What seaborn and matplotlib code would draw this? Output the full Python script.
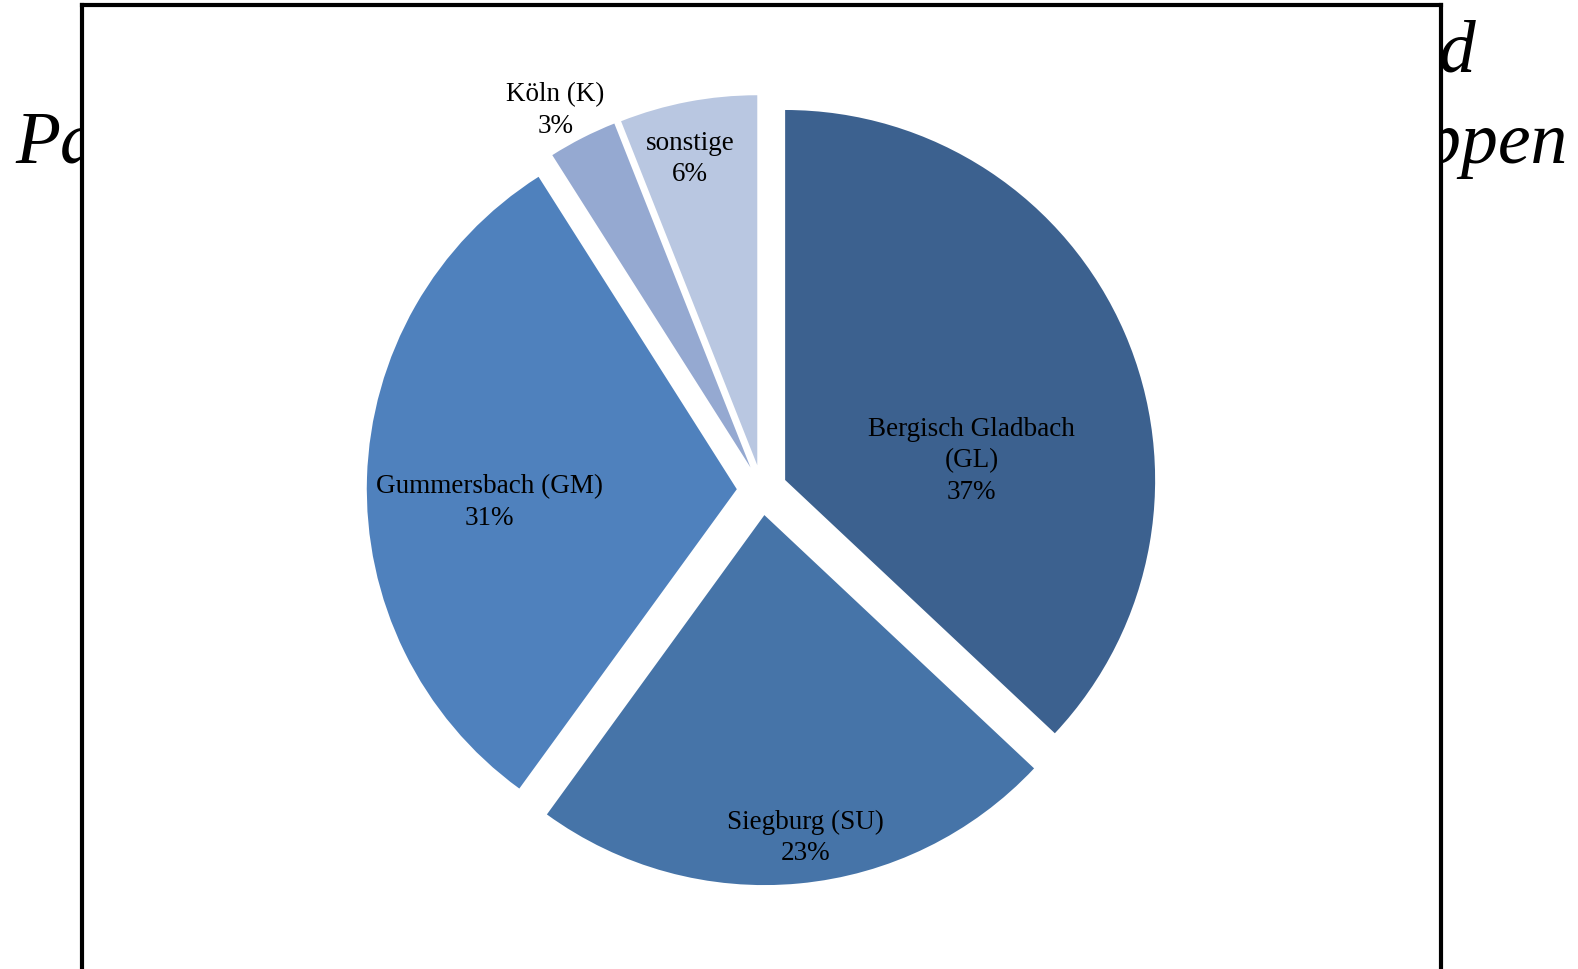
import numpy as np
import matplotlib
matplotlib.use("Agg")
import matplotlib.pyplot as plt
import seaborn as sns

# ---- data ----
categories = ["Bergisch Gladbach\n(GL)", "Siegburg (SU)", "Gummersbach (GM)", "Köln (K)", "sonstige"]
shares = [37, 23, 31, 3, 6]
colors = ["#3C618F", "#4674A8", "#4F81BD", "#95A9D1", "#B9C7E1"]
title_lines = ["Verteilung der stationären Patientinnen und",
               "Patienten nach Wohnort in Kfz-Kennzeichengruppen"]

# ---- layout (label placement relative to slice middle) ----
label_r = [0.572, 0.945, 0.737, 1.169, 0.918]
label_shift = [-15.2, 1.7, 4.3, 1.5, 1.4]

sns.set_theme(style="white")
plt.rcParams["font.family"] = ["Liberation Serif", "DejaVu Serif"]
plt.rcParams["text.color"] = "black"

W, H = 1578, 970
fig = plt.figure(figsize=(W / 100, H / 100), dpi=100)
fig.patch.set_facecolor("white")

# title (largely covered by the chart area)
fig.text(1476 / W, 1 - 72 / H, title_lines[0], ha="right", va="baseline",
         fontsize=53, style="italic", color="black", zorder=-5)
fig.text(792 / W, 1 - 163 / H, title_lines[1], ha="center", va="baseline",
         fontsize=53, style="italic", color="black", zorder=-5)

left, right, top, bottom = 82, 1441, 6, 1010
ax = fig.add_axes([left / W, 1 - bottom / H, (right - left) / W, (bottom - top) / H])
ax.set_facecolor("white")
ax.set_zorder(1)

cx, cy, R = 762, H - 491, 370
wedges, _ = ax.pie(shares, colors=colors, startangle=90, counterclock=False,
                   radius=R, center=(cx, cy), explode=[25.2] * len(shares),
                   frame=True, wedgeprops=dict(linewidth=0))
ax.set_aspect("auto")
ax.set_xlim(left, right)
ax.set_ylim(H - bottom, H - top)
ax.set_xticks([])
ax.set_yticks([])
for s in ax.spines.values():
    s.set_visible(True)
    s.set_color("black")
    s.set_linewidth(3.0)

for w, lab, v, r, sh in zip(wedges, categories, shares, label_r, label_shift):
    mid = np.deg2rad((w.theta1 + w.theta2) / 2 + sh)
    x = cx + r * R * np.cos(mid)
    y = cy + r * R * np.sin(mid)
    ax.text(x, y, f"{lab}\n{v}%", ha="center", va="center", fontsize=19.5,
            linespacing=1.35, color="black")

fig.savefig("out.png", dpi=100)
